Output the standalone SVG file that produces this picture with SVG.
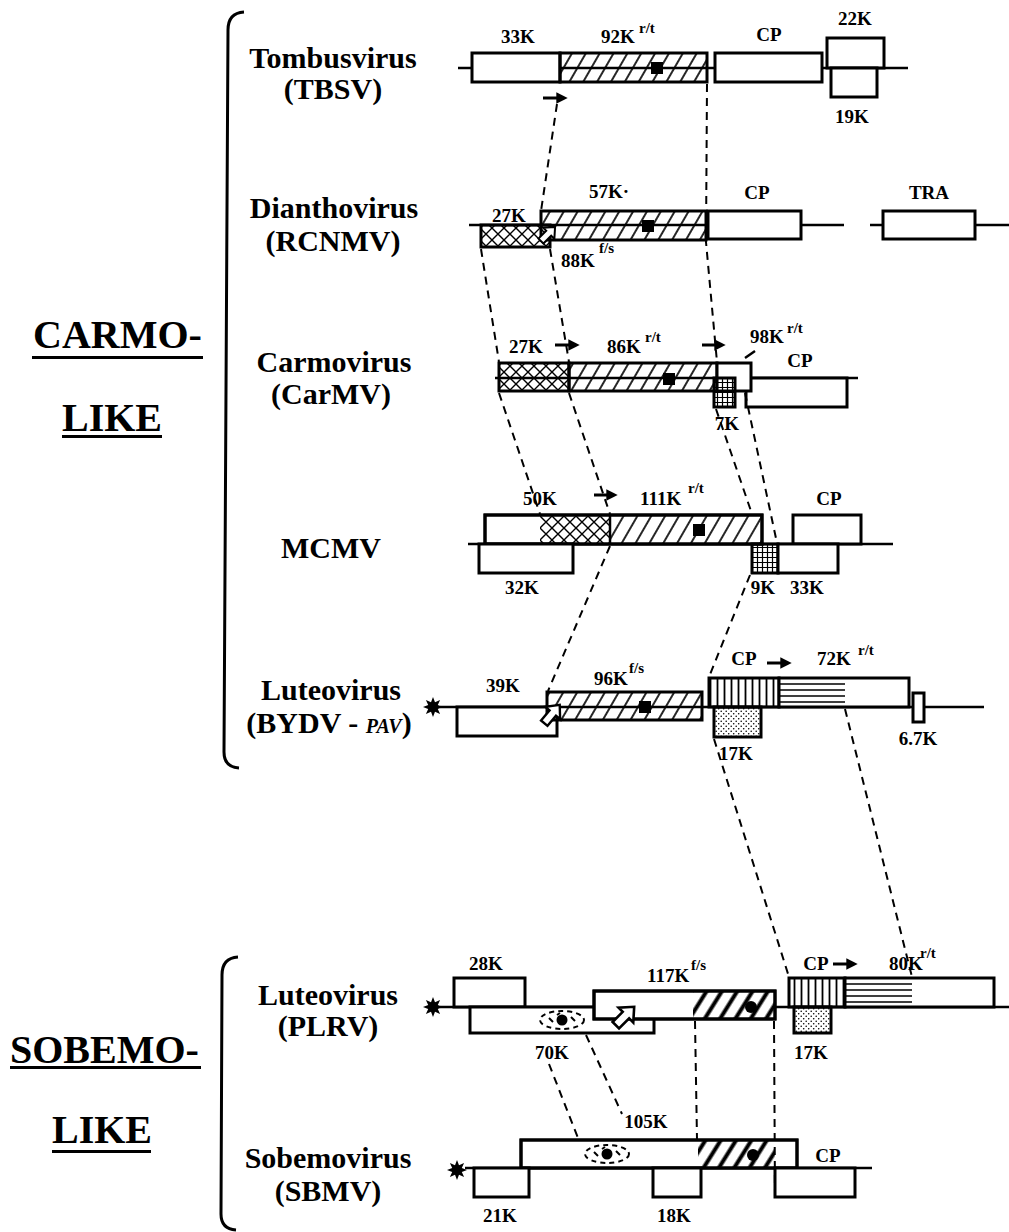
<svg xmlns="http://www.w3.org/2000/svg" width="1009" height="1232" viewBox="0 0 1009 1232">
<style>
text{font-family:"Liberation Serif","Times New Roman",serif;font-weight:bold;fill:#000}
.g{font-size:19px;text-anchor:middle}
.gs{font-size:19px}
.sup{font-size:15px}
.vn{font-size:30px;text-anchor:middle}
.grp{font-size:40px}
.box{fill:#fff;stroke:#000;stroke-width:3}
.h{fill:url(#hatch)}
.hb{fill:url(#hatchB)}
.x{fill:url(#cross)}
.gr{fill:url(#grid)}
.vs{fill:url(#vstripe)}
.st{fill:url(#stipple)}
.ol{fill:none;stroke:#000;stroke-width:3}
.gl{stroke:#000;stroke-width:2.5;fill:none}
.hl{stroke:#000;stroke-width:1.5}
.dash{stroke:#000;stroke-width:2;stroke-dasharray:8 6;fill:none}
.arr{stroke:#000;stroke-width:3;marker-end:url(#ah)}
.br{fill:none;stroke:#000;stroke-width:3}
</style>
<defs>
<pattern id="hatch" patternUnits="userSpaceOnUse" width="12" height="20" patternTransform="rotate(30)"><path d="M6,-2 V22" stroke="#000" stroke-width="1.7"/></pattern>
<pattern id="hatchB" patternUnits="userSpaceOnUse" width="13" height="20" patternTransform="rotate(32)"><path d="M6.5,-2 V22" stroke="#000" stroke-width="4"/></pattern>
<pattern id="cross" patternUnits="userSpaceOnUse" width="12" height="12"><path d="M0,0 L12,12 M12,0 L0,12" stroke="#000" stroke-width="1.4"/></pattern>
<pattern id="grid" patternUnits="userSpaceOnUse" width="5" height="5"><path d="M2.5,0 V5 M0,2.5 H5" stroke="#000" stroke-width="1.2"/></pattern>
<pattern id="vstripe" patternUnits="userSpaceOnUse" width="7" height="10"><path d="M3.5,0 V10" stroke="#000" stroke-width="1.8"/></pattern>
<pattern id="stipple" patternUnits="userSpaceOnUse" width="5" height="5"><circle cx="1.2" cy="1.2" r="0.8"/><circle cx="3.7" cy="3.7" r="0.8"/></pattern>
<marker id="ah" viewBox="0 0 10 10" refX="5" refY="5" markerWidth="4.2" markerHeight="3.8" orient="auto"><path d="M0,0 L10,5 L0,10 z"/></marker>
<g id="barrow"><path d="M-10,-3.5 H1 V-8 L10,0 L1,8 V3.5 H-10 Z" fill="#fff" stroke="#000" stroke-width="2"/></g>
<g id="star"><polygon points="0,-10 2,-4.8 7.1,-7.1 4.8,-2 10,0 4.8,2 7.1,7.1 2,4.8 0,10 -2,4.8 -7.1,7.1 -4.8,2 -10,0 -4.8,-2 -7.1,-7.1 -2,-4.8"/></g>
<g id="orn"><ellipse rx="22" ry="9" fill="none" stroke="#000" stroke-width="2" stroke-dasharray="5 4"/><path d="M-13,-2 l4,4 M9,-3 l4,4 M-5,-5 l3,-2" stroke="#000" stroke-width="2"/><circle r="5.5"/></g>
</defs>

<g id="group-labels">
<text class="grp" x="33" y="348">CARMO-</text>
<rect x="32" y="356" width="171" height="3"/>
<text class="grp" x="62" y="431">LIKE</text>
<rect x="62" y="435" width="100" height="3"/>
<path class="br" d="M244,12 Q228,13 228,30 L224,752 Q224,767 239,768"/>
<text class="grp" x="10" y="1063">SOBEMO-</text>
<rect x="10" y="1066" width="191" height="3"/>
<text class="grp" x="52" y="1143">LIKE</text>
<rect x="52" y="1150" width="99" height="3"/>
<path class="br" d="M238,957 Q222,958 222,975 L221,1214 Q221,1229 236,1230"/>
</g>

<g id="tbsv">
<text class="vn" x="333" y="68">Tombusvirus</text>
<text class="vn" x="333" y="99">(TBSV)</text>
<line class="gl" x1="458" y1="68" x2="908" y2="68"/>
<rect class="box" x="472" y="53" width="88" height="29"/>
<rect class="box h" x="560" y="53" width="147" height="29"/>
<rect x="651" y="62" width="12" height="12"/>
<rect class="box" x="715" y="53" width="107" height="29"/>
<rect class="box" x="827" y="38" width="57" height="30"/>
<rect class="box" x="831" y="68" width="46" height="29"/>
<line class="arr" x1="543" y1="98" x2="562" y2="98"/>
<text class="g" x="518" y="43">33K</text>
<text class="gs" x="601" y="43">92K</text><text class="sup" x="639" y="33">r/t</text>
<text class="g" x="769" y="41">CP</text>
<text class="g" x="855" y="25">22K</text>
<text class="g" x="852" y="123">19K</text>
</g>

<g id="rcnmv">
<text class="vn" x="334" y="218">Dianthovirus</text>
<text class="vn" x="333" y="251">(RCNMV)</text>
<line class="gl" x1="469" y1="225" x2="844" y2="225"/>
<line class="gl" x1="870" y1="225" x2="1009" y2="225"/>
<rect class="box x" x="481" y="225" width="69" height="22"/>
<rect class="box h" x="541" y="211" width="165" height="29"/>
<rect x="642" y="220" width="12" height="12"/>
<use href="#barrow" transform="translate(548,234) rotate(-45)"/>
<rect class="box" x="708" y="211" width="93" height="28"/>
<rect class="box" x="883" y="211" width="92" height="28"/>
<text class="g" x="509" y="222">27K</text>
<text class="g" x="609" y="198">57K·</text>
<text class="g" x="757" y="199">CP</text>
<text class="g" x="929" y="199">TRA</text>
<text class="gs" x="561" y="267">88K</text><text class="sup" x="599" y="253">f/s</text>
</g>

<g id="carmv">
<text class="vn" x="334" y="372">Carmovirus</text>
<text class="vn" x="331" y="404">(CarMV)</text>
<line class="gl" x1="495" y1="378" x2="858" y2="378"/>
<rect class="box" x="746" y="378" width="101" height="29"/>
<rect class="box x" x="499" y="363" width="70" height="28"/>
<rect class="box h" x="569" y="363" width="148" height="28"/>
<rect x="663" y="373" width="12" height="12"/>
<rect class="box" x="717" y="363" width="34" height="28"/>
<rect class="box gr" x="714" y="378" width="21" height="29"/>
<line x1="755" y1="351" x2="745" y2="358" stroke="#000" stroke-width="2.5"/>
<line class="arr" x1="555" y1="345" x2="574" y2="345"/>
<line class="arr" x1="702" y1="345" x2="720" y2="345"/>
<text class="g" x="526" y="353">27K</text>
<text class="gs" x="607" y="353">86K</text><text class="sup" x="645" y="342">r/t</text>
<text class="gs" x="750" y="343">98K</text><text class="sup" x="787" y="333">r/t</text>
<text class="g" x="800" y="367">CP</text>
<text class="g" x="727" y="430">7K</text>
</g>

<g id="mcmv">
<text class="vn" x="331" y="558">MCMV</text>
<line class="gl" x1="468" y1="544" x2="893" y2="544"/>
<rect class="box" x="485" y="515" width="277" height="29"/>
<rect class="x" x="540" y="515" width="70" height="29"/>
<rect class="h" x="610" y="515" width="152" height="29"/>
<rect class="ol" x="485" y="515" width="277" height="29"/>
<line x1="610" y1="515" x2="610" y2="544" stroke="#000" stroke-width="2.5"/>
<rect x="693" y="524" width="12" height="12"/>
<rect class="box" x="793" y="515" width="68" height="29"/>
<rect class="box" x="479" y="544" width="94" height="29"/>
<rect class="box gr" x="752" y="544" width="26" height="29"/>
<rect class="box" x="778" y="544" width="60" height="29"/>
<line class="arr" x1="594" y1="495" x2="612" y2="495"/>
<text class="g" x="540" y="505">50K</text>
<text class="gs" x="640" y="505">111K</text><text class="sup" x="688" y="493">r/t</text>
<text class="g" x="829" y="505">CP</text>
<text class="g" x="522" y="594">32K</text>
<text class="g" x="763" y="594">9K</text>
<text class="g" x="807" y="594">33K</text>
</g>

<g id="bydv">
<text class="vn" x="331" y="700">Luteovirus</text>
<text class="vn" x="329" y="733">(BYDV - <tspan font-size="20" font-style="italic">PAV</tspan>)</text>
<use href="#star" x="433" y="707"/>
<line class="gl" x1="440" y1="707" x2="984" y2="707"/>
<rect class="box" x="457" y="707" width="100" height="29"/>
<rect class="box h" x="547" y="692" width="155" height="28"/>
<rect x="639" y="701" width="12" height="12"/>
<use href="#barrow" transform="translate(552,714) rotate(-50) scale(1.2)"/>
<rect class="box vs" x="709" y="678" width="70" height="29"/>
<rect class="box" x="779" y="678" width="130" height="29"/>
<path class="hl" d="M779,684 H845 M779,690 H845 M779,696 H845 M779,702 H845"/>
<rect class="box st" x="714" y="707" width="47" height="30"/>
<rect class="box" x="913" y="693" width="11" height="29"/>
<line class="arr" x1="767" y1="663" x2="786" y2="663"/>
<text class="g" x="503" y="692">39K</text>
<text class="gs" x="594" y="685">96K</text><text class="sup" x="629" y="673">f/s</text>
<text class="g" x="744" y="665">CP</text>
<text class="gs" x="817" y="665">72K</text><text class="sup" x="858" y="655">r/t</text>
<text class="g" x="736" y="760">17K</text>
<text class="g" x="918" y="745">6.7K</text>
</g>

<g id="plrv">
<text class="vn" x="328" y="1005">Luteovirus</text>
<text class="vn" x="328" y="1036">(PLRV)</text>
<use href="#star" x="433" y="1007"/>
<line class="gl" x1="440" y1="1007" x2="1009" y2="1007"/>
<rect class="box" x="454" y="978" width="71" height="29"/>
<rect class="box" x="470" y="1007" width="184" height="26"/>
<use href="#orn" x="562" y="1020"/>
<rect class="box" x="594" y="991" width="181" height="28"/>
<rect class="hb" x="693" y="991" width="82" height="28"/>
<rect class="ol" x="594" y="991" width="181" height="28"/>
<circle cx="751" cy="1007" r="6"/>
<use href="#barrow" transform="translate(625,1016) rotate(-45) scale(1.3)"/>
<rect class="box vs" x="789" y="978" width="56" height="29"/>
<rect class="box" x="845" y="978" width="149" height="29"/>
<path class="hl" d="M845,984 H912 M845,990 H912 M845,996 H912 M845,1002 H912"/>
<rect class="box st" x="794" y="1007" width="37" height="26"/>
<line class="arr" x1="833" y1="964" x2="852" y2="964"/>
<text class="g" x="486" y="970">28K</text>
<text class="gs" x="647" y="982">117K</text><text class="sup" x="691" y="970">f/s</text>
<text class="g" x="816" y="970">CP</text>
<text class="gs" x="889" y="970">80K</text><text class="sup" x="920" y="958">r/t</text>
<text class="g" x="552" y="1059">70K</text>
<text class="g" x="811" y="1059">17K</text>
</g>

<g id="sbmv">
<text class="vn" x="328" y="1168">Sobemovirus</text>
<text class="vn" x="328" y="1201">(SBMV)</text>
<use href="#star" x="457" y="1170"/>
<line class="gl" x1="465" y1="1168" x2="872" y2="1168"/>
<rect class="box" x="521" y="1140" width="276" height="28"/>
<rect class="hb" x="698" y="1140" width="77" height="28"/>
<rect class="ol" x="521" y="1140" width="276" height="28"/>
<circle cx="753" cy="1155" r="6"/>
<use href="#orn" x="607" y="1154"/>
<rect class="box" x="474" y="1168" width="55" height="29"/>
<rect class="box" x="653" y="1168" width="48" height="29"/>
<rect class="box" x="775" y="1168" width="80" height="29"/>
<text class="g" x="646" y="1128">105K</text>
<text class="g" x="828" y="1162">CP</text>
<text class="g" x="500" y="1222">21K</text>
<text class="g" x="674" y="1222">18K</text>
</g>

<g id="connectors">
<path class="dash" d="M557,104 L541,211"/>
<path class="dash" d="M707,84 L706,242 L717,362"/>
<path class="dash" d="M481,249 L499,362"/>
<path class="dash" d="M550,249 L569,362"/>
<path class="dash" d="M499,393 L540,514"/>
<path class="dash" d="M569,393 L610,514"/>
<path class="dash" d="M716,409 L752,514"/>
<path class="dash" d="M745,393 L777,543"/>
<path class="dash" d="M610,546 L548,691"/>
<path class="dash" d="M750,575 L709,677"/>
<path class="dash" d="M714,739 L789,977"/>
<path class="dash" d="M845,709 L912,977"/>
<path class="dash" d="M549,1064 L578,1138"/>
<path class="dash" d="M586,1035 L622,1114"/>
<path class="dash" d="M695,1021 L697,1139"/>
<path class="dash" d="M774,1021 L775,1196"/>
</g>
</svg>
